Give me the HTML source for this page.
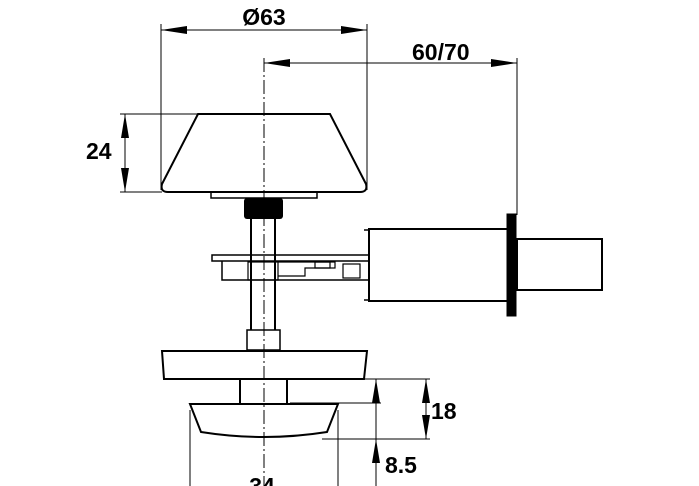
<!DOCTYPE html>
<html><head><style>
html,body{margin:0;padding:0;background:#fff;}
svg{display:block;}
text{font-family:"Liberation Sans",Arial,sans-serif;font-weight:bold;fill:#000;}
</style></head><body>
<svg width="699" height="486" viewBox="0 0 699 486" xmlns="http://www.w3.org/2000/svg">
<g stroke="#000" fill="none" stroke-width="1">
<line x1="161" y1="24" x2="161" y2="190"/>
<line x1="367" y1="24" x2="367" y2="190"/>
<line x1="517" y1="58" x2="517" y2="215"/>
<line x1="120" y1="114" x2="200" y2="114"/>
<line x1="120" y1="192" x2="162" y2="192"/>
<line x1="161" y1="30" x2="367" y2="30"/>
<line x1="264" y1="63" x2="517" y2="63"/>
<line x1="125" y1="114" x2="125" y2="192"/>
<line x1="264" y1="58" x2="264" y2="486" stroke-dasharray="14,3,2,3"/>
<line x1="190" y1="410" x2="190" y2="486"/>
<line x1="338" y1="410" x2="338" y2="486"/>
<line x1="340" y1="379" x2="430" y2="379"/>
<line x1="290" y1="403" x2="381" y2="403"/>
<line x1="322" y1="439" x2="430" y2="439"/>
<line x1="376" y1="379" x2="376" y2="486"/>
<line x1="426" y1="379" x2="426" y2="439"/>
</g>
<g fill="#000">
<polygon points="161,30 187,26 187,34"/>
<polygon points="367,30 341,26 341,34"/>
<polygon points="264,63 290,59 290,67"/>
<polygon points="517,63 491,59 491,67"/>
<polygon points="125,114 121,138 129,138"/>
<polygon points="125,192 121,168 129,168"/>
<polygon points="376,379 372,403 380,403"/>
<polygon points="376,439 372,463 380,463"/>
<polygon points="426,379 422,403 430,403"/>
<polygon points="426,439 422,415 430,415"/>
</g>
<text x="264" y="25" font-size="23" text-anchor="middle">Ø63</text>
<text x="412" y="60" font-size="23">60/70</text>
<text x="86" y="159" font-size="23">24</text>
<text x="431" y="419" font-size="23">18</text>
<text x="385" y="473" font-size="23">8.5</text>
<text x="262" y="494" font-size="23" text-anchor="middle">34</text>
<g stroke="#000" fill="none" stroke-width="2">
<path d="M198,114 L330,114 L366,184 Q368,192 360,192 L168,192 Q160,192 162,184 Z"/>
<rect x="211" y="192" width="106" height="6" stroke-width="1.5"/>
<line x1="251" y1="219" x2="251" y2="330"/>
<line x1="275" y1="219" x2="275" y2="330"/>
<rect x="247" y="330" width="33" height="20" stroke-width="1.5"/>
<rect x="212" y="255" width="157" height="6" stroke-width="1.5"/>
<path d="M222,261 L222,280 L369,280" stroke-width="1.5"/>
<rect x="248" y="262" width="30" height="18" stroke-width="1.2"/>
<path d="M278,262 L330,262 L330,268 L305,268 L305,276 L278,276" stroke-width="1.2"/>
<rect x="315" y="262" width="20" height="6" stroke-width="1.2"/>
<rect x="343" y="264" width="17" height="14" stroke-width="1.2"/>
<path d="M364,230 L369,230 L369,300 L364,300" stroke-width="1.5"/>
<rect x="369" y="229" width="141" height="72"/>
<rect x="507" y="214" width="9" height="102" fill="#000" stroke-width="1"/>
<rect x="517" y="239" width="85" height="51"/>
<path d="M162,351 L367,351 L364,379 L164,379 Z"/>
<line x1="240" y1="379" x2="240" y2="403"/>
<line x1="287" y1="379" x2="287" y2="403"/>
<path d="M190,404 L338,404 L327,432 Q264,442 201,432 Z"/>
</g>
<rect x="244" y="198" width="39" height="21" rx="3" fill="#000"/>
</svg>
</body></html>
